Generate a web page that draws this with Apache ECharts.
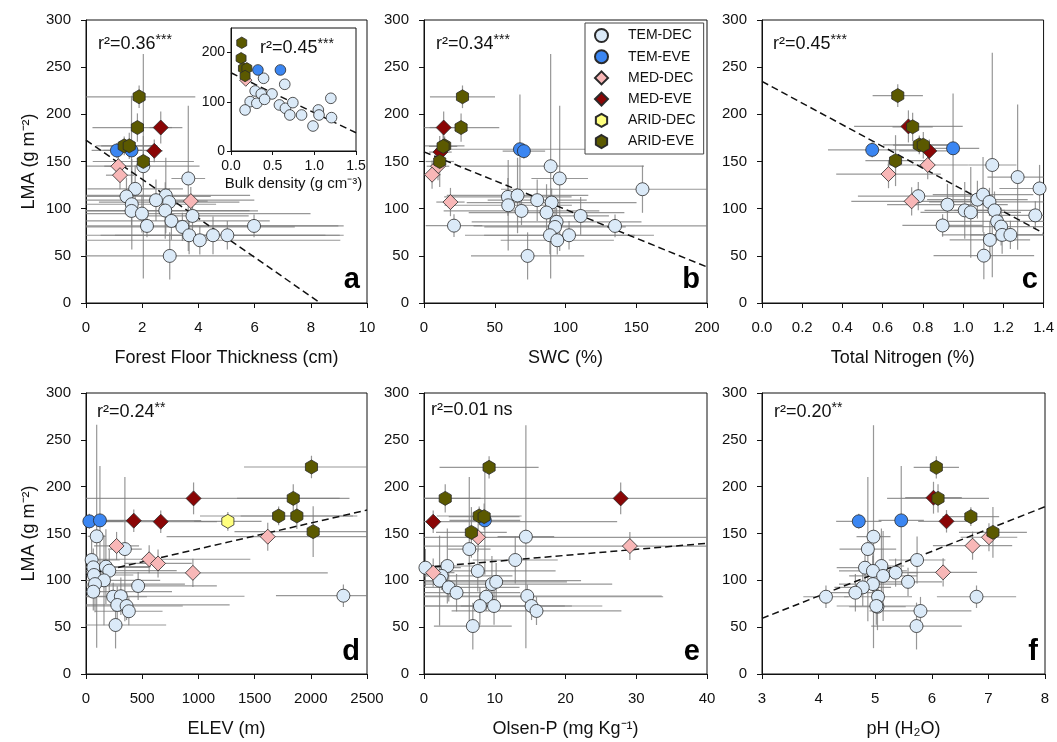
<!DOCTYPE html>
<html>
<head>
<meta charset="utf-8">
<script src="https://cdn.jsdelivr.net/npm/echarts@6/dist/echarts.min.js"></script>
<style>
  html, body { margin: 0; padding: 0; background: #fff; }
  #chart { width: 1057px; height: 742px; }
</style>
</head>
<body>
<div id="chart"></div>
<script>
// Plant functional groups, in legend / drawing order
const GROUPS = ['TEM-DEC', 'TEM-EVE', 'MED-DEC', 'MED-EVE', 'ARID-DEC', 'ARID-EVE'];

// Site means: [group, predictor, LMA (g m-2), predictor error, LMA error]
const floorThickness = [
  ['TEM-DEC', 2.04, 145, 2.0, 119], ['TEM-DEC', 3.64, 132, 0.6, 77], ['TEM-DEC', 1.75, 121, 1.7, 25],
  ['TEM-DEC', 1.44, 113, 3.0, 20], ['TEM-DEC', 2.84, 114, 3.0, 40], ['TEM-DEC', 2.49, 109, 3.5, 22],
  ['TEM-DEC', 2.96, 107, 2.5, 15], ['TEM-DEC', 1.63, 104.7, 3.0, 48], ['TEM-DEC', 1.62, 97.6, 4.5, 15],
  ['TEM-DEC', 2.82, 98, 3.0, 30], ['TEM-DEC', 1.99, 94.8, 6.0, 20], ['TEM-DEC', 3.79, 92.3, 2.0, 15],
  ['TEM-DEC', 3.04, 87, 3.5, 20], ['TEM-DEC', 2.17, 81.7, 7.0, 12], ['TEM-DEC', 5.98, 81.7, 3.0, 12],
  ['TEM-DEC', 3.43, 80.6, 4.0, 15], ['TEM-DEC', 3.67, 71.8, 5.5, 20], ['TEM-DEC', 4.05, 66.5, 5.0, 15],
  ['TEM-DEC', 4.52, 71.8, 4.0, 20], ['TEM-DEC', 5.03, 71.8, 4.0, 15], ['TEM-DEC', 2.98, 49.9, 3.0, 25],
  ['TEM-EVE', 1.10, 161.7, 0.9, 8], ['TEM-EVE', 1.62, 161.7, 1.0, 58],
  ['MED-DEC', 1.15, 145, 0.5, 15], ['MED-DEC', 1.21, 135.5, 0.5, 15], ['MED-DEC', 3.73, 108, 0.6, 15],
  ['MED-EVE', 2.66, 186, 0.4, 17], ['MED-EVE', 2.43, 161.3, 0.3, 12],
  ['ARID-EVE', 1.89, 218.6, 2.0, 12], ['ARID-EVE', 1.83, 186, 1.6, 15], ['ARID-EVE', 1.36, 166.6, 1.0, 10],
  ['ARID-EVE', 1.54, 166.6, 1.0, 14], ['ARID-EVE', 2.04, 150, 1.8, 27]
];

const soilWater = [
  ['TEM-DEC', 89.5, 145, 66, 119], ['TEM-DEC', 95.9, 132, 20, 77], ['TEM-DEC', 154.4, 120.6, 100, 25],
  ['TEM-DEC', 59.3, 112.5, 45, 20], ['TEM-DEC', 66.1, 114, 50, 40], ['TEM-DEC', 80, 109, 35, 22],
  ['TEM-DEC', 90.2, 106.5, 60, 15], ['TEM-DEC', 59.5, 103.6, 45, 48], ['TEM-DEC', 68.9, 97.6, 55, 15],
  ['TEM-DEC', 86.6, 95.9, 55, 30], ['TEM-DEC', 110.7, 92.3, 20, 20], ['TEM-DEC', 93.7, 86, 60, 15],
  ['TEM-DEC', 92.6, 80.6, 50, 20], ['TEM-DEC', 135, 81.7, 100, 12], ['TEM-DEC', 89, 71.8, 60, 20],
  ['TEM-DEC', 102.5, 71.8, 60, 15], ['TEM-DEC', 94.2, 66.5, 40, 15], ['TEM-DEC', 73.2, 49.9, 40, 25],
  ['TEM-DEC', 21.2, 82, 20, 12],
  ['TEM-EVE', 67.8, 163, 60, 58], ['TEM-EVE', 70.6, 161, 15, 8],
  ['MED-DEC', 9.9, 145, 8, 15], ['MED-DEC', 5.7, 136, 6, 15], ['MED-DEC', 18.7, 107, 10, 15],
  ['MED-EVE', 13.9, 186, 10, 17], ['MED-EVE', 11.6, 160, 8, 12],
  ['ARID-EVE', 27.2, 218.6, 23, 12], ['ARID-EVE', 26.2, 186, 27, 15], ['ARID-EVE', 14.6, 166.6, 14, 10],
  ['ARID-EVE', 13.5, 166, 10, 14], ['ARID-EVE', 11.1, 150, 10, 27]
];

const totalNitrogen = [
  ['TEM-DEC', 1.145, 146.3, 0.12, 119], ['TEM-DEC', 1.271, 133.5, 0.15, 77], ['TEM-DEC', 1.380, 121.4, 0.2, 25],
  ['TEM-DEC', 0.922, 104.3, 0.3, 22], ['TEM-DEC', 1.071, 109.6, 0.25, 20], ['TEM-DEC', 1.099, 114.9, 0.25, 40],
  ['TEM-DEC', 1.131, 107.1, 0.3, 15], ['TEM-DEC', 1.008, 98.2, 0.2, 30], ['TEM-DEC', 1.038, 96.1, 0.25, 48],
  ['TEM-DEC', 1.156, 98.2, 0.2, 20], ['TEM-DEC', 1.169, 86.5, 0.3, 15], ['TEM-DEC', 1.189, 81, 0.3, 20],
  ['TEM-DEC', 0.898, 82.2, 0.2, 12], ['TEM-DEC', 1.359, 92.9, 0.2, 15], ['TEM-DEC', 1.194, 72.2, 0.3, 20],
  ['TEM-DEC', 1.235, 72.2, 0.2, 15], ['TEM-DEC', 1.133, 66.9, 0.2, 20], ['TEM-DEC', 1.103, 50.2, 0.25, 25],
  ['TEM-DEC', 0.777, 113.2, 0.3, 15],
  ['TEM-EVE', 0.548, 162.3, 0.22, 8], ['TEM-EVE', 0.950, 164, 0.13, 58],
  ['MED-DEC', 0.629, 136.7, 0.26, 15], ['MED-DEC', 0.824, 146.3, 0.2, 15], ['MED-DEC', 0.744, 107.8, 0.3, 15],
  ['MED-EVE', 0.728, 187.2, 0.27, 17], ['MED-EVE', 0.832, 161.2, 0.15, 12],
  ['ARID-EVE', 0.675, 219.9, 0.125, 12], ['ARID-EVE', 0.749, 186.8, 0.1, 15], ['ARID-EVE', 0.782, 167.6, 0.18, 10],
  ['ARID-EVE', 0.802, 167.3, 0.15, 14], ['ARID-EVE', 0.664, 150.9, 0.15, 27]
];

const elevation = [
  ['TEM-DEC', 95, 147, 80, 119], ['TEM-DEC', 346, 133.4, 150, 77], ['TEM-DEC', 50, 121.7, 250, 25],
  ['TEM-DEC', 65, 113.9, 500, 20], ['TEM-DEC', 177, 114.6, 400, 40], ['TEM-DEC', 207, 110.3, 600, 22],
  ['TEM-DEC', 71, 105.7, 350, 15], ['TEM-DEC', 160, 100, 500, 48], ['TEM-DEC', 464, 94, 700, 15],
  ['TEM-DEC', 80, 96, 800, 30], ['TEM-DEC', 65, 87.9, 700, 20], ['TEM-DEC', 242, 82.5, 300, 15],
  ['TEM-DEC', 310, 83, 1100, 20], ['TEM-DEC', 278, 73.7, 1000, 20], ['TEM-DEC', 361, 72.6, 500, 15],
  ['TEM-DEC', 381, 67, 300, 15], ['TEM-DEC', 2290, 83.6, 600, 12], ['TEM-DEC', 263, 52.3, 450, 25],
  ['TEM-EVE', 30, 163, 300, 8], ['TEM-EVE', 124, 164, 250, 58],
  ['MED-DEC', 1617, 146.6, 900, 15], ['MED-DEC', 272, 136.7, 200, 15], ['MED-DEC', 562, 122.5, 900, 15],
  ['MED-DEC', 641, 118, 300, 15], ['MED-DEC', 951, 108, 1200, 15],
  ['MED-EVE', 957, 187.5, 1300, 17], ['MED-EVE', 425, 163.7, 600, 12], ['MED-EVE', 665, 162.6, 500, 12],
  ['ARID-DEC', 1262, 163, 300, 10],
  ['ARID-EVE', 2006, 221, 600, 12], ['ARID-EVE', 1844, 187.5, 500, 15], ['ARID-EVE', 1714, 168.7, 700, 10],
  ['ARID-EVE', 1876, 168.7, 500, 14], ['ARID-EVE', 2021, 152, 700, 27]
];

const olsenP = [
  ['TEM-DEC', 14.4, 146.6, 4, 119], ['TEM-DEC', 6.4, 133.4, 3, 77], ['TEM-DEC', 12.9, 121.7, 6, 25],
  ['TEM-DEC', 0.2, 113.5, 5, 20], ['TEM-DEC', 3.3, 115.3, 4, 40], ['TEM-DEC', 7.6, 110, 11, 22],
  ['TEM-DEC', 2.5, 104.7, 10, 15], ['TEM-DEC', 2.2, 99.7, 20, 48], ['TEM-DEC', 3.5, 92.5, 10, 15],
  ['TEM-DEC', 4.6, 86.8, 9, 20], ['TEM-DEC', 9.6, 96, 17, 30], ['TEM-DEC', 10.2, 98.4, 10, 20],
  ['TEM-DEC', 8.8, 82.5, 25, 15], ['TEM-DEC', 7.9, 72.6, 13, 20], ['TEM-DEC', 9.9, 72.6, 10, 20],
  ['TEM-DEC', 14.6, 83.3, 19, 12], ['TEM-DEC', 15.2, 72.6, 10, 15], ['TEM-DEC', 15.9, 67.3, 12, 15],
  ['TEM-DEC', 6.9, 51.2, 5.5, 25],
  ['TEM-EVE', 8.6, 164, 5, 58],
  ['MED-DEC', 7.65, 145.9, 35, 15], ['MED-DEC', 29.1, 136.6, 30, 15], ['MED-DEC', 1.3, 108.2, 3, 15],
  ['MED-EVE', 27.8, 187.5, 30, 17], ['MED-EVE', 1.3, 162.6, 26, 12],
  ['ARID-EVE', 9.2, 220.6, 7, 12], ['ARID-EVE', 3.0, 187.5, 5, 15], ['ARID-EVE', 7.8, 168.7, 6, 10],
  ['ARID-EVE', 8.5, 168, 5, 14], ['ARID-EVE', 6.7, 151.2, 5, 27]
];

const soilPH = [
  ['TEM-DEC', 4.97, 146.6, 0.3, 119], ['TEM-DEC', 4.87, 133.4, 0.5, 77], ['TEM-DEC', 5.74, 121.7, 0.5, 25],
  ['TEM-DEC', 4.82, 113.5, 0.5, 20], ['TEM-DEC', 5.11, 115.3, 0.4, 40], ['TEM-DEC', 4.96, 110, 0.6, 22],
  ['TEM-DEC', 5.36, 108.2, 0.4, 15], ['TEM-DEC', 5.14, 104.7, 0.6, 48], ['TEM-DEC', 5.58, 98.4, 0.6, 15],
  ['TEM-DEC', 4.96, 96, 0.6, 30], ['TEM-DEC', 4.78, 92.5, 0.5, 20], ['TEM-DEC', 4.65, 86.8, 0.5, 20],
  ['TEM-DEC', 4.13, 82.5, 0.4, 12], ['TEM-DEC', 5.05, 82.5, 0.6, 15], ['TEM-DEC', 6.79, 82.5, 0.7, 12],
  ['TEM-DEC', 5.04, 71.8, 0.5, 25], ['TEM-DEC', 5.02, 72.6, 0.7, 20], ['TEM-DEC', 5.80, 67.3, 0.9, 15],
  ['TEM-DEC', 5.73, 51.2, 0.8, 25],
  ['TEM-EVE', 4.71, 163, 0.4, 8], ['TEM-EVE', 5.46, 164, 0.4, 58],
  ['MED-DEC', 7.01, 146, 0.5, 15], ['MED-DEC', 6.72, 137, 0.7, 15], ['MED-DEC', 6.20, 108.5, 0.6, 15],
  ['MED-EVE', 6.03, 188.2, 0.5, 17], ['MED-EVE', 6.26, 163, 0.5, 12],
  ['ARID-EVE', 6.08, 220.6, 0.4, 12], ['ARID-EVE', 6.11, 187.5, 0.9, 15], ['ARID-EVE', 6.69, 168, 0.5, 10],
  ['ARID-EVE', 7.08, 151.2, 0.6, 27]
];

// Inset: [group, bulk density (g cm-3), LMA]
const bulkDensity = [
  ['TEM-DEC', 0.391, 147.8], ['TEM-DEC', 0.645, 135.6], ['TEM-DEC', 0.29, 122], ['TEM-DEC', 0.363, 116],
  ['TEM-DEC', 0.492, 116], ['TEM-DEC', 0.23, 100.3], ['TEM-DEC', 0.31, 97], ['TEM-DEC', 0.403, 105],
  ['TEM-DEC', 0.169, 83.4], ['TEM-DEC', 0.581, 93.6], ['TEM-DEC', 0.653, 86.8], ['TEM-DEC', 0.742, 98.3],
  ['TEM-DEC', 0.706, 73.2], ['TEM-DEC', 0.847, 73.2], ['TEM-DEC', 1.048, 83.4], ['TEM-DEC', 1.056, 73.2],
  ['TEM-DEC', 1.198, 107.1], ['TEM-DEC', 1.206, 67.8], ['TEM-DEC', 0.984, 50.8],
  ['TEM-EVE', 0.323, 164.7], ['TEM-EVE', 0.593, 164.7],
  ['MED-DEC', 0.177, 144],
  ['ARID-EVE', 0.129, 220], ['ARID-EVE', 0.121, 188.5], ['ARID-EVE', 0.149, 168], ['ARID-EVE', 0.19, 168],
  ['ARID-EVE', 0.169, 152.5]
];

// Regression lines (end points)
const fitThickness = [[0, 172.6], [8.34, 0]];
const fitWater = [[0, 160.2], [200, 38.2]];
const fitNitrogen = [[0, 234.9], [1.4, 74]];
const fitElevation = [[0, 105.9], [2500, 175]];
const fitOlsen = [[0, 113.8], [40, 139.5]];
const fitPH = [[3, 59.4], [8, 178.6]];
const fitBulk = [[0, 159], [1.5, 37]];

// Coefficients of determination and significance
const statValues = ['0.36', '0.34', '0.45', '0.24', '0.01', '0.20'];
const statSignif = ['***', '***', '***', '**', 'ns', '**'];
const insetStat = ['0.45', '***'];

// Axis titles and panel letters
const xTitles = ['Forest Floor Thickness (cm)', 'SWC (%)', 'Total Nitrogen (%)', 'ELEV (m)', 'Olsen-P (mg Kg\u207B\u00B9)', 'pH (H\u2082O)'];
const yTitle = 'LMA (g m\u207B\u00B2)';
const insetXTitle = 'Bulk density (g cm\u207B\u00B3)';
const panelLetters = ['a', 'b', 'c', 'd', 'e', 'f'];

// ---------------------------------------------------------------------------
const FONT = '"Liberation Sans", Arial, Helvetica, sans-serif';
const HEX = 'path://M50,0 L93.3,25 L93.3,75 L50,100 L6.7,75 L6.7,25 Z';
const MARK = {
  'TEM-DEC':  { symbol: 'circle',  size: 13, color: '#dbeaf8' },
  'TEM-EVE':  { symbol: 'circle',  size: 13, color: '#3b86f2' },
  'MED-DEC':  { symbol: 'diamond', size: 15, color: '#f8b7b7' },
  'MED-EVE':  { symbol: 'diamond', size: 15, color: '#8a0606' },
  'ARID-DEC': { symbol: HEX,       size: 14, color: '#ffff7e' },
  'ARID-EVE': { symbol: HEX,       size: 14, color: '#5b5900' }
};

const panels = [
  { rows: floorThickness, fit: fitThickness, x: [0, 10, 2], dec: 0 },
  { rows: soilWater,      fit: fitWater,     x: [0, 200, 50], dec: 0 },
  { rows: totalNitrogen,  fit: fitNitrogen,  x: [0, 1.4, 0.2], dec: 1 },
  { rows: elevation,      fit: fitElevation, x: [0, 2500, 500], dec: 0 },
  { rows: olsenP,         fit: fitOlsen,     x: [0, 40, 10], dec: 0 },
  { rows: soilPH,         fit: fitPH,        x: [3, 8, 1], dec: 0 }
];

const colLeft = [86, 424, 762];
const colWidth = [281, 283, 283];
const rowTop = [20, 393];
const rowHeight = [283, 281];

const grids = [], xAxes = [], yAxes = [], series = [], graphics = [];

function errorBars(xr, yr) {
  const clamp = (v, r) => Math.max(r[0], Math.min(r[1], v));
  return function (params, api) {
    const x = api.value(0), y = api.value(1), ex = api.value(2), ey = api.value(3);
    const h1 = api.coord([clamp(x - ex, xr), y]), h2 = api.coord([clamp(x + ex, xr), y]);
    const v1 = api.coord([x, clamp(y - ey, yr)]), v2 = api.coord([x, clamp(y + ey, yr)]);
    const st = { stroke: 'rgba(125,125,125,0.8)', lineWidth: 1.2 };
    return {
      type: 'group',
      children: [
        { type: 'line', shape: { x1: h1[0], y1: h1[1], x2: h2[0], y2: h2[1] }, style: st },
        { type: 'line', shape: { x1: v1[0], y1: v1[1], x2: v2[0], y2: v2[1] }, style: st }
      ]
    };
  };
}

function addScatter(rows, idx, sizeScale, z) {
  GROUPS.forEach(g => {
    const pts = rows.filter(r => r[0] === g).map(r => [r[1], r[2]]);
    if (!pts.length) return;
    const m = MARK[g];
    series.push({
      type: 'scatter', name: g, xAxisIndex: idx, yAxisIndex: idx,
      data: pts, symbol: m.symbol, symbolSize: m.size * sizeScale, symbolKeepAspect: true,
      itemStyle: { color: m.color, borderColor: '#2a2a2a', borderWidth: 0.8, opacity: 1 },
      emphasis: { disabled: true },
      z: z, silent: true
    });
  });
}

panels.forEach((p, i) => {
  const row = Math.floor(i / 3), col = i % 3;
  grids.push({
    left: colLeft[col], top: rowTop[row], width: colWidth[col], height: rowHeight[row],
    show: true, borderColor: '#111', borderWidth: 1, backgroundColor: '#fff'
  });
  xAxes.push({
    type: 'value', gridIndex: i, min: p.x[0], max: p.x[1], interval: p.x[2],
    name: xTitles[i], nameLocation: 'middle', nameGap: 46,
    nameTextStyle: { fontFamily: FONT, fontSize: 18, color: '#111' },
    axisLine: { show: true, onZero: false, lineStyle: { color: '#111', width: 1 } },
    axisTick: { show: true, inside: false, length: 5, lineStyle: { color: '#111' } },
    axisLabel: { margin: 17, fontFamily: FONT, fontSize: 15, color: '#111',
      formatter: v => v.toFixed(p.dec) },
    splitLine: { show: false }
  });
  yAxes.push({
    type: 'value', gridIndex: i, min: 0, max: 300, interval: 50,
    name: col === 0 ? yTitle : '', nameLocation: 'middle', nameGap: 48,
    nameTextStyle: { fontFamily: FONT, fontSize: 18, color: '#111' },
    axisLine: { show: true, onZero: false, lineStyle: { color: '#111', width: 1 } },
    axisTick: { show: true, inside: false, length: 5, lineStyle: { color: '#111' } },
    axisLabel: { margin: 15, fontFamily: FONT, fontSize: 15, color: '#111' },
    splitLine: { show: false }
  });

  series.push({
    type: 'custom', xAxisIndex: i, yAxisIndex: i, silent: true, z: 2,
    data: p.rows.map(r => [r[1], r[2], r[3], r[4]]),
    encode: { x: 0, y: 1 },
    renderItem: errorBars([p.x[0], p.x[1]], [0, 300])
  });
  series.push({
    type: 'line', xAxisIndex: i, yAxisIndex: i, data: p.fit, symbol: 'none', silent: true, z: 3,
    lineStyle: { color: '#111', width: 1.5, type: [7, 4] }
  });
  addScatter(p.rows, i, 1, 4);

  // r² annotation
  const statLeft = [98, 436, 773, 97, 431, 774][i];
  const statY = row === 0 ? 44 : 412;
  const sig = statSignif[i];
  const isStar = sig.indexOf('*') === 0;
  graphics.push({
    type: 'text', left: statLeft, top: statY - 11, z: 50,
    style: {
      text: '{b|r\u00B2=' + statValues[i] + (isStar ? '}{s|' + sig + '}' : ' ' + sig + '}'),
      rich: {
        b: { fontFamily: FONT, fontSize: 18, fill: '#111', lineHeight: 22 },
        s: { fontFamily: FONT, fontSize: 14, fill: '#111', verticalAlign: 'top', lineHeight: 22 }
      }
    }
  });
  // panel letter
  graphics.push({
    type: 'text', z: 50,
    style: {
      text: panelLetters[i], x: colLeft[col] + colWidth[col] - 7,
      y: row === 0 ? 294 : 666,
      align: 'right', verticalAlign: 'bottom',
      fontFamily: FONT, fontSize: 29, fontWeight: 'bold', fill: '#000'
    }
  });
});

// Inset: bulk density
const ins = 6;
grids.push({ left: 231, top: 28, width: 125, height: 123, show: true,
  borderColor: '#111', borderWidth: 1, backgroundColor: '#fff', z: 10 });
xAxes.push({
  type: 'value', gridIndex: ins, min: 0, max: 1.5, interval: 0.5, z: 10,
  name: insetXTitle, nameLocation: 'middle', nameGap: 25,
  nameTextStyle: { fontFamily: FONT, fontSize: 15, color: '#111' },
  axisLine: { show: true, onZero: false, lineStyle: { color: '#111' } },
  axisTick: { show: true, length: 4, lineStyle: { color: '#111' } },
  axisLabel: { margin: 8, fontFamily: FONT, fontSize: 14, color: '#111', formatter: v => v.toFixed(1) },
  splitLine: { show: false }
});
yAxes.push({
  type: 'value', gridIndex: ins, min: 0, max: 250, interval: 50, z: 10,
  axisLine: { show: true, onZero: false, lineStyle: { color: '#111' } },
  axisTick: { show: true, length: 4, lineStyle: { color: '#111' }, customValues: [0, 100, 200] },
  axisLabel: { margin: 6, fontFamily: FONT, fontSize: 14, color: '#111', customValues: [0, 100, 200],
    formatter: v => (v % 100 === 0 && v < 250) ? String(v) : '' },
  splitLine: { show: false }
});
series.push({
  type: 'line', xAxisIndex: ins, yAxisIndex: ins, data: fitBulk, symbol: 'none', silent: true, z: 11,
  lineStyle: { color: '#111', width: 1.5, type: [7, 4] }
});
addScatter(bulkDensity, ins, 0.82, 12);
graphics.push({
  type: 'text', left: 260, top: 37, z: 60,
  style: {
    text: '{b|r\u00B2=' + insetStat[0] + '}{s|' + insetStat[1] + '}',
    rich: {
      b: { fontFamily: FONT, fontSize: 18, fill: '#111', lineHeight: 22 },
      s: { fontFamily: FONT, fontSize: 14, fill: '#111', verticalAlign: 'top', lineHeight: 22 }
    }
  }
});

const chart = echarts.init(document.getElementById('chart'), null, { renderer: 'canvas' });
chart.setOption({
  animation: false,
  backgroundColor: '#fff',
  grid: grids,
  xAxis: xAxes,
  yAxis: yAxes,
  legend: {
    data: GROUPS, orient: 'vertical', left: 585, top: 23,
    padding: [5, 8, 5, 9], itemGap: 6.2, itemWidth: 13, itemHeight: 13,
    borderColor: '#444', borderWidth: 1, backgroundColor: '#fff',
    selectedMode: false, z: 40,
    textStyle: { fontFamily: FONT, fontSize: 14, color: '#111', padding: [0, 0, 0, 15] }
  },
  graphic: graphics,
  series: series
});
</script>
</body>
</html>
